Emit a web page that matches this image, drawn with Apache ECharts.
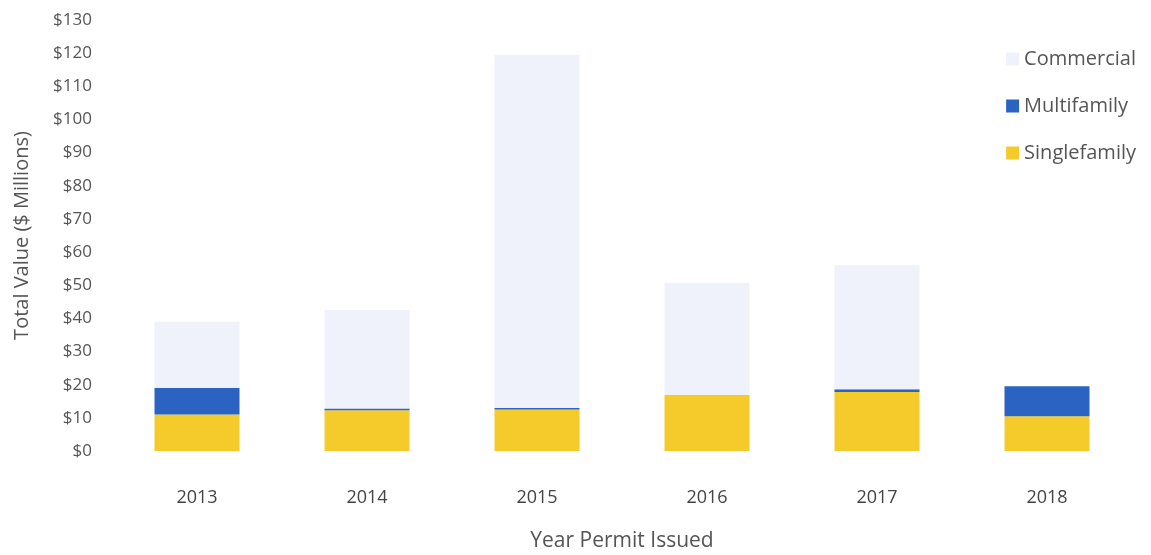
<!DOCTYPE html>
<html><head><meta charset="utf-8">
<script src="https://cdn.jsdelivr.net/npm/echarts@6/dist/echarts.min.js"></script>
<style>html,body{margin:0;padding:0;background:#fff}#c{width:1151px;height:555px}</style>
</head><body><div id="c"></div>
<script>
const years = ['2013','2014','2015','2016','2017','2018'];
const singlefamily = [11, 12.3, 12.5, 17, 17.8, 10.5];
const multifamily = [8, 0.5, 0.5, 0, 0.8, 9];
const commercial = [20, 29.7, 106.5, 33.7, 37.4, 0];
const yTicks = [0,10,20,30,40,50,60,70,80,90,100,110,120,130];

const font = '"Open Sans", "Noto Sans", sans-serif';
const chart = echarts.init(document.getElementById('c'));
chart.setOption({
  animation: false,
  textStyle: {fontFamily: font},
  grid: {left: 112, right: 19, top: 20, bottom: 104, outerBoundsMode: 'none', containLabel: false},
  legend: {
    orient: 'vertical', right: 10, top: 44, itemGap: 27,
    itemWidth: 13, itemHeight: 13, icon: 'rect',
    data: ['Commercial','Multifamily','Singlefamily'],
    textStyle: {color: '#555', fontSize: 20, fontFamily: font}
  },
  xAxis: {
    type: 'category', data: years,
    axisLine: {show: false}, axisTick: {show: false},
    axisLabel: {color: '#444', fontSize: 18, margin: 38},
    name: 'Year Permit Issued', nameLocation: 'middle', nameGap: 80,
    nameTextStyle: {color: '#555', fontSize: 21}
  },
  yAxis: {
    type: 'value', min: 0, max: 130, interval: 10,
    splitLine: {show: false}, axisLine: {show: false}, axisTick: {show: false},
    axisLabel: {color: '#555', fontSize: 17, margin: 20, formatter: v => yTicks.includes(v) ? '$' + v : ''},
    name: 'Total Value ($ Millions)', nameLocation: 'middle', nameGap: 80,
    nameTextStyle: {color: '#555', fontSize: 20}
  },
  series: [
    {name: 'Singlefamily', type: 'bar', stack: 't', data: singlefamily, barCategoryGap: '50%', itemStyle: {color: '#F5CB2C'}},
    {name: 'Multifamily', type: 'bar', stack: 't', data: multifamily, itemStyle: {color: '#2B63C3'}},
    {name: 'Commercial', type: 'bar', stack: 't', data: commercial, itemStyle: {color: '#F0F2FB'}}
  ]
});
</script></body></html>
